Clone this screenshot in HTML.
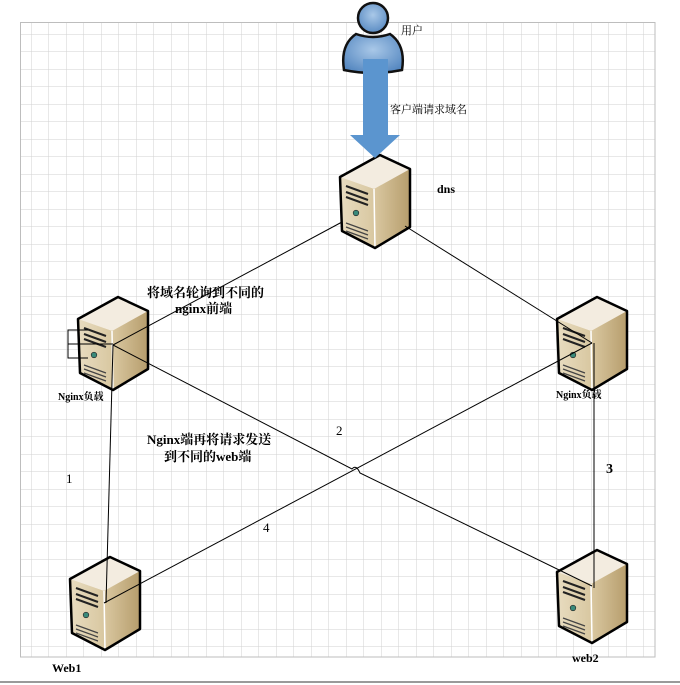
<!DOCTYPE html>
<html><head><meta charset="utf-8"><style>
html,body{margin:0;padding:0;background:#fff;}
svg{display:block;}
text{font-family:"Liberation Serif","Noto Serif CJK SC","Noto Sans CJK SC",serif;fill:#000;}
</style></head><body>
<svg width="680" height="685" viewBox="0 0 680 685" xmlns="http://www.w3.org/2000/svg">
<defs>
<pattern id="g" x="13.5" y="16.5" width="17.5" height="17.5" patternUnits="userSpaceOnUse">
<path d="M0 0H17.5M0 0V17.5" stroke="#d2d2d2" stroke-width="1" fill="none"/>
</pattern>
<linearGradient id="front" x1="0" x2="1"><stop offset="0" stop-color="#e8dcc0"/><stop offset="1" stop-color="#d8c7a0"/></linearGradient>
<linearGradient id="side" x1="0" x2="1"><stop offset="0" stop-color="#f4ede0"/><stop offset="0.5" stop-color="#d9c7a0"/><stop offset="1" stop-color="#b69d6c"/></linearGradient>
<radialGradient id="body" cx="0.5" cy="0.4" r="0.7"><stop offset="0" stop-color="#a9c8e8"/><stop offset="1" stop-color="#4e82bd"/></radialGradient>
<g id="srv">
<path d="M0 22 L40 0 L70 14 L70 72 L35 93 L2 76 Z" fill="url(#side)"/>
<path d="M0 22 L40 0 L70 14 L34 34 Z" fill="#f3ece0"/>
<path d="M0 22 L34 34 L35 93 L2 76 Z" fill="url(#front)"/>
<path d="M34 34 L35 93" stroke="#fff" stroke-width="1.5"/>
<path d="M0 22 L40 0 L70 14 L70 72 L35 93 L2 76 Z" fill="none" stroke="#000" stroke-width="2.5" stroke-linejoin="round"/>
<path d="M6 31 L28 39 M6 37 L28 45 M6 42 L28 50" stroke="#222" stroke-width="2"/>
<circle cx="16" cy="58" r="2.8" fill="#3a8a7a" stroke="#222" stroke-width="0.6"/>
<path d="M6 68 L28 76 M6 72 L28 80 M6 76 L28 84" stroke="#444" stroke-width="1.2"/>
</g>
</defs>
<rect x="20" y="22" width="635" height="635" fill="url(#g)"/>
<rect x="20.5" y="22.5" width="634.5" height="634.5" fill="none" stroke="#bdbdbd" stroke-width="1"/>
<line x1="0" y1="682" x2="680" y2="682" stroke="#9a9a9a" stroke-width="2"/>

<!-- servers -->
<use href="#srv" x="340" y="155"/>
<use href="#srv" x="78" y="297"/>
<use href="#srv" x="557" y="297"/>
<use href="#srv" x="70" y="557"/>
<use href="#srv" x="557" y="550"/>

<!-- connectors -->
<g stroke="#000" stroke-width="1" fill="none">
<line x1="342" y1="222" x2="113" y2="345"/>
<line x1="405" y1="226" x2="592" y2="343"/>
<path d="M113 345 L352 469 Q356 464 360 473 L592 586"/>
<line x1="592" y1="343" x2="104" y2="603"/>
<line x1="113" y1="345" x2="106" y2="603"/>
<line x1="594" y1="343" x2="594" y2="588"/>
<path d="M88 330 H68 V358 H88 M68 344 H88"/>
<line x1="88" y1="344" x2="113" y2="344"/>
</g>

<!-- user -->
<path d="M344 70 Q340 45 356 34 Q373 40 390 34 Q406 45 402 70 Q373 76 344 70 Z" fill="url(#body)" stroke="#111" stroke-width="2.5"/>
<circle cx="373" cy="18" r="15" fill="url(#body)" stroke="#111" stroke-width="2.5"/>
<!-- arrow -->
<path d="M363 59 H388 V135 H400 L375 158 L350 135 H363 Z" fill="#5b95cf"/>

<!-- labels -->
<text x="401" y="34" font-size="11">用户</text>
<text x="390" y="113" font-size="11">客户端请求域名</text>
<text x="437" y="193" font-size="12" font-weight="bold">dns</text>
<text x="147" y="297" font-size="13" font-weight="bold">将域名轮询到不同的</text>
<text x="175" y="313" font-size="13" font-weight="bold">nginx前端</text>
<text x="58" y="400" font-size="10" font-weight="bold">Nginx负载</text>
<text x="556" y="398" font-size="10" font-weight="bold">Nginx负载</text>
<text x="147" y="444" font-size="13" font-weight="bold">Nginx端再将请求发送</text>
<text x="164" y="461" font-size="13" font-weight="bold">到不同的web端</text>
<text x="66" y="483" font-size="13">1</text>
<text x="336" y="435" font-size="13">2</text>
<text x="606" y="473" font-size="14" font-weight="bold">3</text>
<text x="263" y="532" font-size="13">4</text>
<text x="52" y="672" font-size="12" font-weight="bold">Web1</text>
<text x="572" y="662" font-size="12" font-weight="bold">web2</text>
</svg>
</body></html>
